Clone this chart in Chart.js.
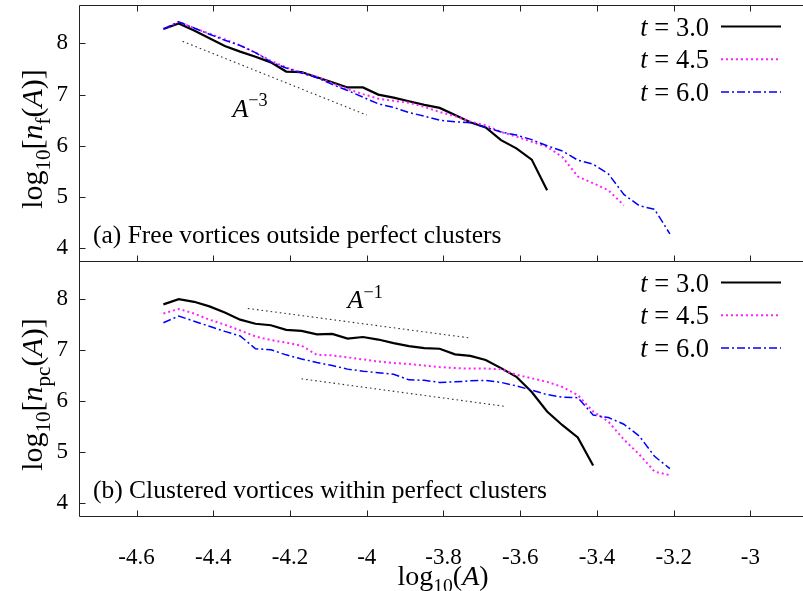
<!DOCTYPE html>
<html><head><meta charset="utf-8">
<script src="https://cdn.jsdelivr.net/npm/chart.js@4/dist/chart.umd.min.js"></script>
<style>
html,body{margin:0;padding:0;background:#fff;overflow:hidden;width:803px;height:591px}
#wrap{position:relative;width:803px;height:591px;overflow:hidden;background:#fff}
canvas{position:absolute;left:0;top:0}
</style></head><body>
<div id="wrap"><canvas id="cA" width="803" height="591"></canvas><canvas id="cB" width="803" height="591"></canvas></div>
<script>
// ---- data ----
const xGrid = [-4.53,-4.49,-4.45,-4.41,-4.37,-4.33,-4.29,-4.25,-4.21,-4.17,-4.13,-4.09,-4.05,-4.01,-3.97,-3.93,-3.89,-3.85,-3.81,-3.77,-3.73,-3.69,-3.65,-3.61,-3.57,-3.53,-3.49,-3.45,-3.41,-3.37,-3.33,-3.29,-3.25,-3.21];
const xTicks = [-4.6,-4.4,-4.2,-4,-3.8,-3.6,-3.4,-3.2,-3];
const yTicks = [4,5,6,7,8];
const xMin = -4.75, xMax = -2.863, yMin = 3.75, yMax = 8.75;
const seriesLabels = ['3.0','4.5','6.0'];
// (a) free vortices
const freeT30 = [8.28,8.39,8.25,8.10,7.95,7.84,7.74,7.63,7.45,7.44,7.34,7.24,7.14,7.14,7.00,6.94,6.87,6.80,6.74,6.60,6.46,6.36,6.11,5.95,5.73,5.13];
const freeT45 = [8.28,8.42,8.30,8.19,8.08,7.96,7.82,7.66,7.53,7.43,7.35,7.22,7.11,7.01,6.92,6.88,6.84,6.76,6.66,6.58,6.47,6.40,6.27,6.18,6.08,5.98,5.78,5.40,5.27,5.13,4.84];
const freeT60 = [8.28,8.42,8.30,8.18,8.06,7.96,7.82,7.64,7.52,7.42,7.33,7.20,7.08,6.95,6.82,6.75,6.65,6.58,6.50,6.47,6.45,6.36,6.27,6.21,6.12,6.00,5.90,5.72,5.64,5.45,5.05,4.83,4.76,4.28];
// (b) clustered vortices
const clusT30 = [7.90,8.00,7.95,7.86,7.74,7.60,7.52,7.49,7.40,7.38,7.31,7.32,7.23,7.26,7.21,7.14,7.08,7.04,7.03,6.92,6.89,6.81,6.65,6.48,6.18,5.80,5.53,5.29,4.74];
const clusT45 = [7.72,7.81,7.72,7.60,7.50,7.39,7.27,7.20,7.15,7.09,6.91,6.90,6.86,6.82,6.78,6.75,6.73,6.70,6.67,6.65,6.64,6.64,6.63,6.52,6.45,6.38,6.28,6.12,5.80,5.60,5.25,4.96,4.62,4.55];
const clusT60 = [7.54,7.67,7.57,7.47,7.37,7.28,7.03,7.01,6.91,6.83,6.76,6.70,6.63,6.59,6.56,6.53,6.42,6.41,6.37,6.38,6.40,6.41,6.37,6.30,6.22,6.13,6.08,6.07,5.73,5.68,5.55,5.32,4.92,4.68];
// power-law guide lines
const guideA3X = [-4.48,-4.00], guideA3Y = [8.04,6.60];
const guideB1aX = [-4.31,-3.73], guideB1aY = [7.82,7.24];
const guideB1bX = [-4.17,-3.64], guideB1bY = [6.44,5.90];

// ---- helpers ----
const FF = '"Liberation Serif","Times New Roman",serif';
const pts = (xs, ys) => ys.map((y,i)=>({x:xs[i], y}));
function segFont(k, size){
  const it = (k==='i');
  const sz = (k==='sub'||k==='sup') ? size*0.7 : size;
  return (it?'italic ':'') + sz + 'px ' + FF;
}
function drawRich(ctx, segs, x, y, size, align){
  let w = 0; const m = [];
  for (const [t,k] of segs){ ctx.font = segFont(k,size); const ww = ctx.measureText(t).width; m.push(ww); w += ww; }
  let cx = align==='center' ? x - w/2 : align==='right' ? x - w : x;
  ctx.textAlign = 'left'; ctx.textBaseline = 'alphabetic'; ctx.fillStyle = '#000';
  segs.forEach(([t,k],i)=>{
    ctx.font = segFont(k,size);
    const dy = k==='sub' ? size*0.26 : k==='sup' ? -size*0.42 : 0;
    ctx.fillText(t, cx, y+dy); cx += m[i];
  });
}
const styles = [
  {borderColor:'#000000', borderWidth:2.2, borderDash:[]},
  {borderColor:'#ff22ff', borderWidth:2, borderDash:[2,3]},
  {borderColor:'#0000ff', borderWidth:1.5, borderDash:[8,3,2,3]}
];
function seriesSet(a,b,c){
  return [a,b,c].map((ys,i)=>Object.assign({
    label:'t = '+seriesLabels[i], data:pts(xGrid, ys), showLine:true, pointRadius:0, tension:0,
    borderCapStyle:'butt', order:3-i, isSeries:true
  }, styles[i]));
}
function guide(xs, ys){
  return {label:'guide', data:pts(xs,ys), showLine:true, pointRadius:0, borderColor:'#333', borderWidth:1.1, borderDash:[1.6,3], order:5};
}

const LEG = {textRight:709, lineFrom:721, lineTo:781, first:21.5, step:32.7};
const framePlugin = {
  id:'frame',
  beforeDatasetsDraw(chart, args, opts){
    const {ctx, chartArea:a, scales:{x,y}} = chart;
    const L = Math.round(a.left)+0.5, T = Math.round(a.top)+0.5, B = Math.round(a.bottom)+0.5;
    ctx.save();
    ctx.strokeStyle = '#222'; ctx.lineWidth = 1; ctx.setLineDash([]);
    ctx.beginPath();
    ctx.moveTo(a.right+2, T); ctx.lineTo(L, T); ctx.lineTo(L, B); ctx.lineTo(a.right+2, B);
    for (const v of yTicks){ const py = Math.round(y.getPixelForValue(v))+0.5; ctx.moveTo(L, py); ctx.lineTo(L+6, py); }
    for (const v of xTicks){
      const px = Math.round(x.getPixelForValue(v))+0.5;
      ctx.moveTo(px, B); ctx.lineTo(px, B-6);
      if (opts.topTicks){ ctx.moveTo(px, T); ctx.lineTo(px, T+6); }
    }
    ctx.stroke();
    ctx.restore();
  },
  afterDraw(chart, args, opts){
    const {ctx, chartArea:a} = chart;
    ctx.save();
    const series = chart.data.datasets.filter(d=>d.isSeries);
    series.forEach((d,i)=>{
      const cy = a.top + LEG.first + i*LEG.step;
      drawRich(ctx, [['t','i'],[' = '+seriesLabels[i],'n']], LEG.textRight, cy+9, 26.5, 'right');
      ctx.strokeStyle = d.borderColor; ctx.lineWidth = d.borderWidth; ctx.setLineDash(d.borderDash); ctx.lineCap='butt';
      ctx.beginPath(); ctx.moveTo(LEG.lineFrom, cy); ctx.lineTo(LEG.lineTo, cy); ctx.stroke();
    });
    ctx.setLineDash([]);
    drawRich(ctx, [[opts.panelText,'n']], a.left+14, a.bottom-18, 25.5, 'left');
    const sx = chart.scales.x, sy = chart.scales.y;
    drawRich(ctx, [['A','i'],[opts.annExp,'sup']], sx.getPixelForValue(opts.annX), sy.getPixelForValue(opts.annY), 26, 'left');
    ctx.save();
    ctx.translate(30, (a.top+a.bottom)/2 + 6);
    ctx.rotate(-Math.PI/2);
    drawRich(ctx, opts.yTitle, 0, 12, 30, 'center');
    ctx.restore();
    if (opts.xTitle) drawRich(ctx, opts.xTitle, 443, 585, 28, 'center');
    ctx.restore();
  }
};

function yScale(){
  return {type:'linear', min:yMin, max:yMax,
    afterFit(s){ s.width = 79; s.paddingTop = 0; s.paddingBottom = 0; },
    afterBuildTicks(s){ s.ticks = yTicks.map(v=>({value:v})); },
    grid:{display:false, drawTicks:false}, border:{display:false},
    ticks:{padding:11, color:'#000', font:{family:FF, size:23}, callback:v=>String(v)}};
}

const chartA = new Chart(document.getElementById('cA'), {
  type:'scatter',
  data:{datasets:[...seriesSet(freeT30, freeT45, freeT60), guide(guideA3X, guideA3Y)]},
  options:{
    responsive:false, animation:false, devicePixelRatio:1,
    layout:{padding:{top:5, bottom:330, left:0, right:0}, autoPadding:false},
    plugins:{legend:{display:false}, tooltip:{enabled:false},
      frame:{topTicks:true, panelText:'(a) Free vortices outside perfect clusters', annExp:'\u22123', annX:-4.35, annY:6.57,
        yTitle:[['log','n'],['10','sub'],['[','n'],['n','i'],['f','sub'],['(','n'],['A','i'],[')]','n']]}},
    scales:{
      x:{type:'linear', min:xMin, max:xMax, display:false},
      y:yScale()
    }
  },
  plugins:[framePlugin]
});

const chartB = new Chart(document.getElementById('cB'), {
  type:'scatter',
  data:{datasets:[...seriesSet(clusT30, clusT45, clusT60), guide(guideB1aX, guideB1aY), guide(guideB1bX, guideB1bY)]},
  options:{
    responsive:false, animation:false, devicePixelRatio:1,
    layout:{padding:{top:261, bottom:0, left:0, right:0}, autoPadding:false},
    plugins:{legend:{display:false}, tooltip:{enabled:false},
      frame:{topTicks:false, panelText:'(b) Clustered vortices within perfect clusters', annExp:'\u22121', annX:-4.05, annY:7.82,
        yTitle:[['log','n'],['10','sub'],['[','n'],['n','i'],['pc','sub'],['(','n'],['A','i'],[')]','n']],
        xTitle:[['log','n'],['10','sub'],['(','n'],['A','i'],[')','n']]}},
    scales:{
      x:{type:'linear', min:xMin, max:xMax,
        afterFit(s){ s.height = 75; s.paddingLeft = 0; s.paddingRight = 0; },
        afterBuildTicks(s){ s.ticks = xTicks.map(v=>({value:v})); },
        grid:{display:false, drawTicks:false}, border:{display:false},
        ticks:{padding:28, color:'#000', autoSkip:false, maxRotation:0, font:{family:FF, size:23}, callback:v=>String(v)}},
      y:yScale()
    }
  },
  plugins:[framePlugin]
});
</script>
</body></html>
